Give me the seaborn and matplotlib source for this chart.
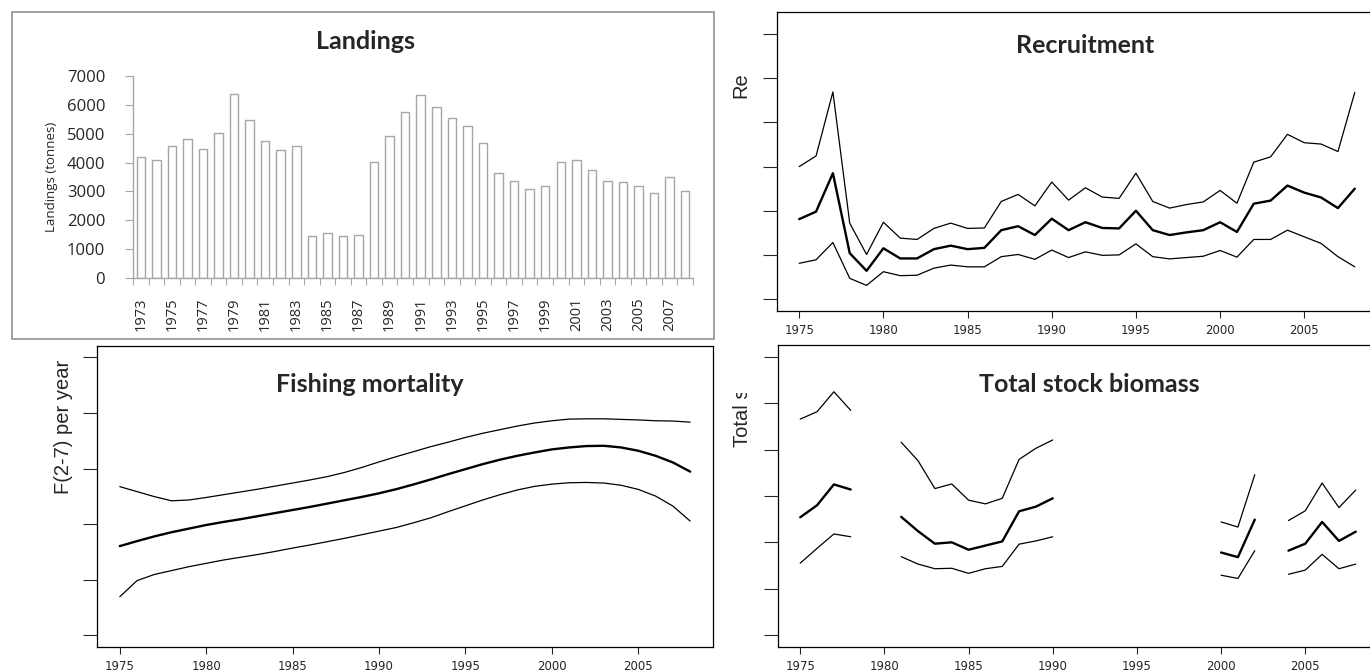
import numpy as np
import pandas as pd
import matplotlib
matplotlib.use("Agg")
import matplotlib.pyplot as plt
import seaborn as sns
from matplotlib.patches import Rectangle
from matplotlib.transforms import Bbox, TransformedBbox

# landings 1973-2008 (tonnes)
land_years = list(range(1973, 2009))
landings = [4210, 4100, 4580, 4810, 4480, 5030, 6370, 5480, 4760, 4450, 4580, 1470,
            1570, 1460, 1500, 4030, 4930, 5740, 6340, 5920, 5560, 5260, 4680, 3650,
            3370, 3100, 3200, 4030, 4100, 3750, 3370, 3320, 3200, 2960, 3510, 3020]

# assessment years 1975-2008
years = list(range(1975, 2009))

rec_mid = [181, 198, 285, 104, 64, 115, 92, 92, 113, 121, 113, 116, 156, 165, 145, 182, 156,
           174, 161, 160, 200, 156, 145, 151, 156, 174, 152, 216, 223, 257, 241, 230, 206, 250]
rec_up = [300, 324, 469, 172, 101, 174, 138, 135, 160, 172, 160, 161, 221, 237, 211, 265, 224,
          252, 231, 228, 285, 221, 206, 214, 220, 246, 217, 310, 322, 373, 354, 351, 334, 468]
rec_lo = [81, 89, 128, 47, 31, 62, 53, 54, 70, 77, 73, 73, 96, 101, 90, 111, 94,
          107, 99, 100, 125, 96, 91, 94, 97, 110, 95, 135, 135, 156, 141, 126, 96, 73]

f_mid = [0.321, 0.339, 0.356, 0.371, 0.384, 0.397, 0.408, 0.418, 0.429, 0.440, 0.451, 0.462,
         0.474, 0.486, 0.498, 0.511, 0.526, 0.543, 0.561, 0.580, 0.598, 0.616, 0.632, 0.646,
         0.658, 0.669, 0.676, 0.681, 0.682, 0.676, 0.664, 0.646, 0.622, 0.589]
f_up = [0.535, 0.517, 0.499, 0.484, 0.487, 0.496, 0.506, 0.516, 0.526, 0.537, 0.548, 0.559,
        0.571, 0.586, 0.604, 0.624, 0.643, 0.661, 0.679, 0.695, 0.712, 0.727, 0.740, 0.753,
        0.764, 0.772, 0.778, 0.779, 0.779, 0.777, 0.775, 0.772, 0.771, 0.767]
f_lo = [0.139, 0.197, 0.219, 0.233, 0.247, 0.259, 0.271, 0.281, 0.291, 0.302, 0.314, 0.325,
        0.337, 0.349, 0.362, 0.375, 0.388, 0.405, 0.423, 0.445, 0.466, 0.487, 0.506, 0.523,
        0.536, 0.544, 0.549, 0.550, 0.548, 0.540, 0.525, 0.501, 0.465, 0.411]

nan = np.nan
tsb_up = [4660, 4820, 5250, 4850, nan, nan, 4160, 3760, 3160, 3260, 2910, 2830, 2950, 3790,
          4030, 4210, nan, nan, nan, nan, nan, nan, nan, nan, nan, 2440, 2330, 3460, nan,
          2470, 2680, 3280, 2750, 3130]
tsb_mid = [2540, 2800, 3250, 3140, nan, nan, 2550, 2240, 1970, 2000, 1840, 1930, 2020, 2670,
           2770, 2950, nan, nan, nan, nan, nan, nan, nan, nan, nan, 1780, 1680, 2490, nan,
           1820, 1970, 2440, 2030, 2230]
tsb_lo = [1550, 1870, 2180, 2120, nan, nan, 1690, 1530, 1430, 1440, 1330, 1430, 1480, 1960,
          2030, 2120, nan, nan, nan, nan, nan, nan, nan, nan, nan, 1290, 1220, 1820, nan,
          1310, 1400, 1740, 1430, 1530]

sns.set_style("white")
plt.rcParams['font.family'] = ['Liberation Sans', 'DejaVu Sans']

W, H = 1370, 672
fig = plt.figure(figsize=(W / 100, H / 100), dpi=100)


def px_rect(left, top, right, bottom):
    # pixel box (from top-left) -> figure fraction rect
    return [left / W, 1 - bottom / H, (right - left) / W, (bottom - top) / H]


def band_frame(lo, mid, up):
    df = pd.DataFrame({"year": years, "lower": lo, "mid": mid, "upper": up})
    df["seg"] = df["mid"].isna().cumsum()
    return df.dropna()


def draw_bands(ax, df):
    for col, lw in (("lower", 0.9), ("upper", 0.9), ("mid", 1.7)):
        sns.lineplot(data=df, x="year", y=col, units="seg", estimator=None,
                     color="black", linewidth=lw, ax=ax)
    ax.set_xlim(1975 - 1.32, 2008 + 1.32)
    ax.set_xticks(range(1975, 2006, 5))
    ax.set_xticklabels([str(y) for y in range(1975, 2006, 5)], fontsize=8.5,
                       family=['DejaVu Sans'])
    ax.set_yticklabels([])
    ax.set_xlabel("")
    ax.set_ylabel("")
    ax.tick_params(axis="x", length=5, width=0.8, pad=4, bottom=True)
    ax.tick_params(axis="y", length=10, width=0.8, left=True)
    for s in ax.spines.values():
        s.set_color("black")
        s.set_linewidth(0.9)


# ---- Landings (Excel-style panel) ----
fig.add_artist(Rectangle((12 / W, 1 - 339 / H), (714 - 12) / W, (339 - 12) / H,
                         transform=fig.transFigure, fill=False, edgecolor="#9a9a9a", lw=1.3))
ax1 = fig.add_axes(px_rect(133, 76, 693, 278))
sns.barplot(x=[str(y) for y in land_years], y=landings, color="white", saturation=1,
            edgecolor="#a6a6a6", linewidth=1, width=0.55, ax=ax1)
ax1.set_xlim(-0.5, len(land_years) - 0.5)
ax1.set_ylim(0, 7000)
ax1.set_yticks(range(0, 7001, 1000))
ax1.set_xticks(range(0, len(land_years), 2))
ax1.set_xticklabels([str(y) for y in land_years[::2]], rotation=90, fontsize=10.5,
                    family=['Open Sans', 'DejaVu Sans'])
ax1.set_yticklabels([str(v) for v in range(0, 7001, 1000)], fontsize=12,
                    family=['Open Sans', 'DejaVu Sans'])
ax1.set_xticks(np.arange(-0.5, len(land_years), 1), minor=True)
ax1.tick_params(axis="x", which="major", length=0, pad=14)
ax1.tick_params(axis="x", which="minor", length=5, width=0.8, color="#a6a6a6", bottom=True)
ax1.tick_params(axis="y", length=6, width=0.8, color="#a6a6a6", pad=14, left=True)
for s in ("top", "right"):
    ax1.spines[s].set_visible(False)
for s in ("left", "bottom"):
    ax1.spines[s].set_color("#a6a6a6")
    ax1.spines[s].set_linewidth(1)
ax1.set_xlabel("")
ax1.set_ylabel("")
fig.text(366 / W, 1 - 49 / H, "Landings", ha="center", va="baseline", fontsize=18,
         fontweight="bold", family=['Lato', 'DejaVu Sans'])
fig.text(51 / W, 1 - 177 / H, "Landings (tonnes)", rotation=90, ha="center", va="center",
         fontsize=9.5, family=['Open Sans', 'DejaVu Sans'])

# ---- Recruitment ----
ax2 = fig.add_axes(px_rect(777, 12, 1377, 311))
draw_bands(ax2, band_frame(rec_lo, rec_mid, rec_up))
ax2.set_ylim(-27, 650)
ax2.set_yticks(range(0, 601, 100))
ax2.set_yticklabels([])
fig.text(1085 / W, 1 - 53 / H, "Recruitment", ha="center", va="baseline", fontsize=18,
         fontweight="bold", family=['Lato', 'DejaVu Sans'])
fig.text(741 / W, 1 - 98 / H, "Re", rotation=90, ha="center", va="bottom", fontsize=14.5)

# ---- Fishing mortality ----
ax3 = fig.add_axes(px_rect(97, 346, 713, 647))
draw_bands(ax3, band_frame(f_lo, f_mid, f_up))
ax3.set_ylim(-0.042, 1.041)
ax3.set_yticks(np.arange(0, 1.01, 0.2))
ax3.set_yticklabels([])
fig.text(370 / W, 1 - 392 / H, "Fishing mortality", ha="center", va="baseline", fontsize=18,
         fontweight="bold", family=['Lato', 'DejaVu Sans'])
fig.text(64 / W, 1 - 427 / H, "F(2-7) per year", rotation=90, ha="center", va="center",
         fontsize=14.5)

# ---- Total stock biomass ----
ax4 = fig.add_axes(px_rect(778, 345, 1378, 647))
draw_bands(ax4, band_frame(tsb_lo, tsb_mid, tsb_up))
ax4.set_ylim(-260, 6260)
ax4.set_yticks(range(0, 6001, 1000))
ax4.set_yticklabels([])
fig.text(1089 / W, 1 - 392 / H, "Total stock biomass", ha="center", va="baseline",
         fontsize=18, fontweight="bold", family=['Lato', 'DejaVu Sans'])
# y label is cut off in the original figure
tl = fig.text(743 / W, 1 - 447 / H, "Total stock biomass", rotation=90, ha="center",
              va="bottom", fontsize=14.5)
tl.set_clip_box(TransformedBbox(Bbox([[0, 0], [1, 1 - 393 / H]]), fig.transFigure))
tl.set_clip_on(True)

fig.savefig("out.png", dpi=100)
